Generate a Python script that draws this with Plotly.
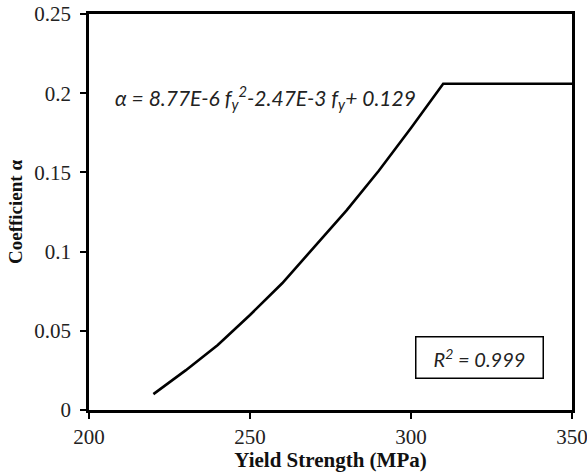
import plotly.graph_objects as go

yield_strength = [220, 230, 240, 250, 260, 270, 280, 290, 300, 310, 350]
alpha = [0.010, 0.025, 0.041, 0.060, 0.080, 0.103, 0.126, 0.151, 0.178, 0.206, 0.206]

x_ticks = [200, 250, 300, 350]
y_ticks = [0, 0.05, 0.1, 0.15, 0.2, 0.25]
y_tick_text = ["0", "0.05", "0.1", "0.15", "0.2", "0.25"]

equation = "α = 8.77E-6 f<sub>y</sub><sup>2</sup>-2.47E-3 f<sub>y</sub>+ 0.129"
r2_text = "R<sup>2</sup> = 0.999"

fig = go.Figure()
fig.add_trace(go.Scatter(x=yield_strength, y=alpha, mode="lines",
                         line=dict(color="black", width=2.6), showlegend=False))

serif = "Liberation Serif, Times New Roman, serif"
tick_font = dict(family=serif, size=21, color="#222")

fig.update_layout(
    width=587, height=472,
    margin=dict(l=89, r=15, t=14, b=62, autoexpand=False),
    paper_bgcolor="white", plot_bgcolor="white",
    xaxis=dict(range=[200, 350], tickvals=x_ticks, ticks="outside", ticklen=6,
               tickwidth=2, tickcolor="black", showline=True, linecolor="black",
               linewidth=2.5, mirror=True, showgrid=False, zeroline=False,
               tickfont=tick_font, ticklabeloverflow="allow", automargin=False,
               title=dict(text="<b>Yield Strength (MPa)</b>",
                          font=dict(family=serif, size=21, color="#111"), standoff=0)),
    yaxis=dict(range=[0, 0.25], tickvals=y_ticks, ticktext=y_tick_text, ticks="outside",
               ticklen=6, tickwidth=2, tickcolor="black", showline=True, linecolor="black",
               linewidth=2.5, mirror=True, showgrid=False, zeroline=False,
               tickfont=tick_font, ticklabelstandoff=5, automargin=False,
               title=dict(text="<b>Coefficient α</b>",
                          font=dict(family=serif, size=19, color="#111"), standoff=7)),
)

fig.add_annotation(x=207.5, y=0.1976, xref="x", yref="y", text="<i>" + equation + "</i>",
                   showarrow=False, xanchor="left", yanchor="middle",
                   font=dict(family="Lato, Open Sans, sans-serif", size=21, color="#222"))
fig.add_annotation(x=321.4, y=0.0330, xref="x", yref="y", text="<i>" + r2_text + "</i>",
                   showarrow=False, xanchor="center", yanchor="middle",
                   bordercolor="black", borderwidth=1.5, borderpad=7,
                   width=112, bgcolor="white",
                   font=dict(family="Lato, Open Sans, sans-serif", size=20, color="#222"))

fig.write_html("out.html", config={"displayModeBar": False},
               post_script="document.body.style.margin='0';document.body.style.overflow='hidden';")
